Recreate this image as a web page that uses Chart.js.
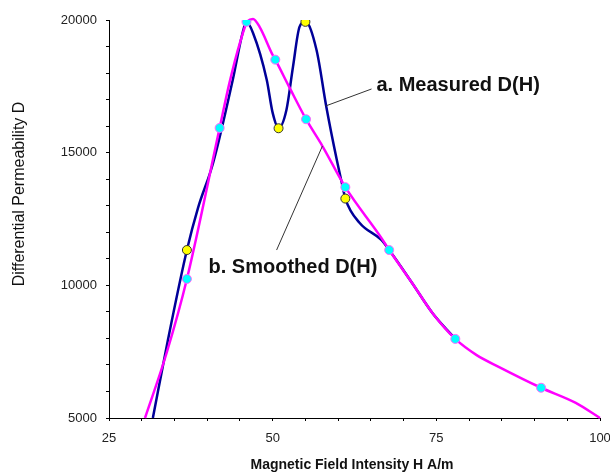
<!DOCTYPE html>
<html>
<head>
<meta charset="utf-8">
<script src="https://cdn.jsdelivr.net/npm/chart.js@4/dist/chart.umd.min.js"></script>
<style>
  html, body { margin: 0; padding: 0; background: #fff; }
</style>
</head>
<body>
<canvas id="chart" width="610" height="472"></canvas>
<script>
// measured D(H) curve (blue)
const measuredH = [31.7, 34.0, 36.9, 38.6, 40.9, 43.9, 45.4, 46.0, 47.0, 49.1, 50.0, 50.9, 52.1, 53.1, 54.1, 55.0, 56.7, 58.2, 59.8, 60.7, 61.1, 63.3, 66.6, 67.8, 71.3, 74.4, 77.9];
const measuredD = [5000, 7940, 11330, 12920, 14610, 17740, 19510, 19930, 19510, 17740, 16500, 15930, 16610, 18230, 19740, 19930, 18870, 16720, 14720, 13710, 13270, 12350, 11710, 11330, 10090, 8960, 7980];

// smoothed D(H) curve (magenta)
const smoothH = [30.5, 33.8, 36.9, 41.9, 43.4, 45.0, 46.2, 47.0, 48.0, 50.0, 50.4, 52.6, 55.1, 57.6, 61.1, 66.6, 67.8, 71.3, 74.4, 77.9, 81.1, 84.6, 91.0, 96.3, 100];
const smoothD = [5000, 7450, 10240, 15930, 17630, 19140, 19960, 20040, 19740, 18680, 18505, 17440, 16260, 15250, 13700, 11790, 11330, 10090, 8960, 7980, 7380, 6920, 6140, 5570, 5000];

// marked points
const yellowH = [36.9, 50.9, 55.0, 61.1];
const yellowD = [11330, 15920, 19930, 13270];
const cyanH = [36.9, 41.9, 46.0, 50.4, 55.1, 61.1, 67.8, 77.9, 91.0];
const cyanD = [10240, 15930, 19930, 18505, 16260, 13700, 11330, 7980, 6140];

// axis ticks
const xMajor = [25, 50, 75, 100];
const yMajor = [5000, 10000, 15000, 20000];

const xy = (hs, ds) => hs.map((h, i) => ({x: h, y: ds[i]}));

// callout labels with leader lines, placed in data units
const notes = [
    {text: 'a. Measured D(H)', h: 65.85, d: 17550, from: [65.1, 17400], to: [58.1, 16760]},
    {text: 'b. Smoothed D(H)', h: 40.2, d: 10690, from: [57.6, 15250], to: [50.6, 11330]}
];

/*
    annotate plugin: axis titles + callout labels
*/
const annotate = {
    id: 'annotate',
    afterDatasetsDraw(chart) {
        const ctx = chart.ctx, xs = chart.scales.x, ys = chart.scales.y;
        ctx.save();
        // leader lines
        ctx.strokeStyle = '#333';
        ctx.lineWidth = 1;
        notes.forEach(n => {
            ctx.beginPath();
            ctx.moveTo(xs.getPixelForValue(n.from[0]), ys.getPixelForValue(n.from[1]));
            ctx.lineTo(xs.getPixelForValue(n.to[0]), ys.getPixelForValue(n.to[1]));
            ctx.stroke();
        });
        ctx.fillStyle = '#111';
        ctx.font = 'bold 20px "Liberation Sans", Arial, sans-serif';
        ctx.textBaseline = 'middle';
        ctx.textAlign = 'left';
        notes.forEach(n => {
            ctx.fillText(n.text, xs.getPixelForValue(n.h), ys.getPixelForValue(n.d));
        });
        // axis titles
        ctx.font = 'bold 14px "Liberation Sans", Arial, sans-serif';
        ctx.textAlign = 'center';
        ctx.fillText('Magnetic Field Intensity H A/m', 352, 465);
        ctx.font = '16px "Liberation Sans", Arial, sans-serif';
        ctx.translate(20, 194);
        ctx.rotate(-Math.PI / 2);
        ctx.fillText('Differential Permeability D', 0, 0);
        ctx.restore();
    }
};

const tickFont = {family: '"Liberation Sans", Arial, sans-serif', size: 13};

const chart = new Chart('chart', {
    type: 'line',
    data: {
        datasets: [
            {
                data: xy(yellowH, yellowD), showLine: false,
                pointRadius: 4.5, pointBackgroundColor: '#ffff00', pointBorderColor: '#333',
                pointBorderWidth: 1, order: 0
            },
            {
                data: xy(cyanH, cyanD), showLine: false,
                pointRadius: 4.5, pointBackgroundColor: '#00ffff', pointBorderColor: '#ff66ff',
                pointBorderWidth: 1, order: 1
            },
            {
                data: xy(smoothH, smoothD), borderColor: '#ff00ff', borderWidth: 2.5,
                pointRadius: 0, cubicInterpolationMode: 'monotone', clip: false, order: 2
            },
            {
                data: xy(measuredH, measuredD), borderColor: '#000099', borderWidth: 2.5,
                pointRadius: 0, cubicInterpolationMode: 'monotone', clip: false, order: 3
            }
        ]
    },
    options: {
        responsive: false,
        animation: false,
        layout: {padding: {top: 20, right: 10, left: 0, bottom: 0}},
        plugins: {legend: {display: false}, tooltip: {enabled: false}},
        scales: {
            x: {
                type: 'linear', min: 25, max: 100,
                afterFit: s => { s.height = 54; s.paddingLeft = 0; s.paddingRight = 0; },
                ticks: {
                    stepSize: 5, font: tickFont, color: '#222', padding: 10, maxRotation: 0,
                    callback: v => xMajor.includes(v) ? v : ''
                },
                grid: {drawOnChartArea: false, tickLength: 3, color: '#000'},
                border: {color: '#000', width: 1}
            },
            y: {
                min: 5000, max: 20000,
                afterFit: s => { s.width = 109; },
                ticks: {
                    stepSize: 1000, font: tickFont, color: '#222', padding: 9,
                    callback: v => yMajor.includes(v) ? v : ''
                },
                grid: {drawOnChartArea: false, tickLength: 3, color: '#000'},
                border: {color: '#000', width: 1}
            }
        }
    },
    plugins: [annotate]
});
</script>
</body>
</html>
